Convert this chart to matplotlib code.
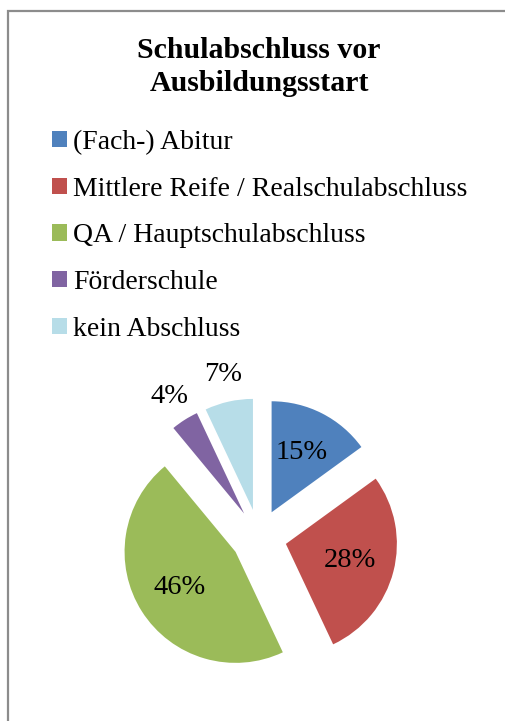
import matplotlib.pyplot as plt
import numpy as np
from matplotlib.patches import Rectangle

# data
categories = ['(Fach-) Abitur', 'Mittlere Reife / Realschulabschluss',
              'QA / Hauptschulabschluss', 'Förderschule', 'kein Abschluss']
shares = [15, 28, 46, 4, 7]
colors = ['#4F81BD', '#C0504D', '#9BBB59', '#8064A2', '#B7DDE8']
title = 'Schulabschluss vor\nAusbildungsstart'

plt.rcParams['font.family'] = 'Liberation Serif'

W, H = 505, 721
fig = plt.figure(figsize=(W / 100, H / 100), dpi=100)

# outer frame (only top and left edge visible in the crop)
fig.add_artist(Rectangle((8 / W, -0.1), 1.2, 1 - 11 / H + 0.1, transform=fig.transFigure,
                         fill=False, edgecolor='#8c8c8c', linewidth=1.6))

fig.text(259 / W, 1 - 67 / H, title, ha='center', va='center',
         fontsize=21.5, fontweight='bold', linespacing=1.28)

# pie axes: 1 data unit = 111 px, centred at (259, 537) px
r_px = 111
cx, cy = 259, 537
half = 2 * r_px
ax = fig.add_axes([(cx - half) / W, (H - cy - half) / H, 2 * half / W, 2 * half / H])
wedges, _ = ax.pie(shares, colors=colors, startangle=90, counterclock=False,
                   explode=[0.25] * len(shares), radius=1,
                   wedgeprops=dict(linewidth=0))
ax.set_xlim(-2, 2)
ax.set_ylim(-2, 2)
ax.axis('off')

# big slices get the label inside, small ones just outside the rim
for w, v in zip(wedges, shares):
    mid = np.deg2rad((w.theta1 + w.theta2) / 2)
    d = 0.6 if v >= 10 else 1.25
    x = w.center[0] + d * np.cos(mid)
    y = w.center[1] + d * np.sin(mid)
    ax.text(x, y, f'{v}%', ha='center', va='center', fontsize=20.5)

leg = fig.legend(wedges, categories, loc='upper left', bbox_to_anchor=(52 / W, 1 - 130 / H),
                 frameon=False, fontsize=20, handlelength=0.54, handleheight=0.54,
                 handletextpad=0.22, labelspacing=0.78, borderaxespad=0, borderpad=0)

plt.savefig('out.png', dpi=100)
